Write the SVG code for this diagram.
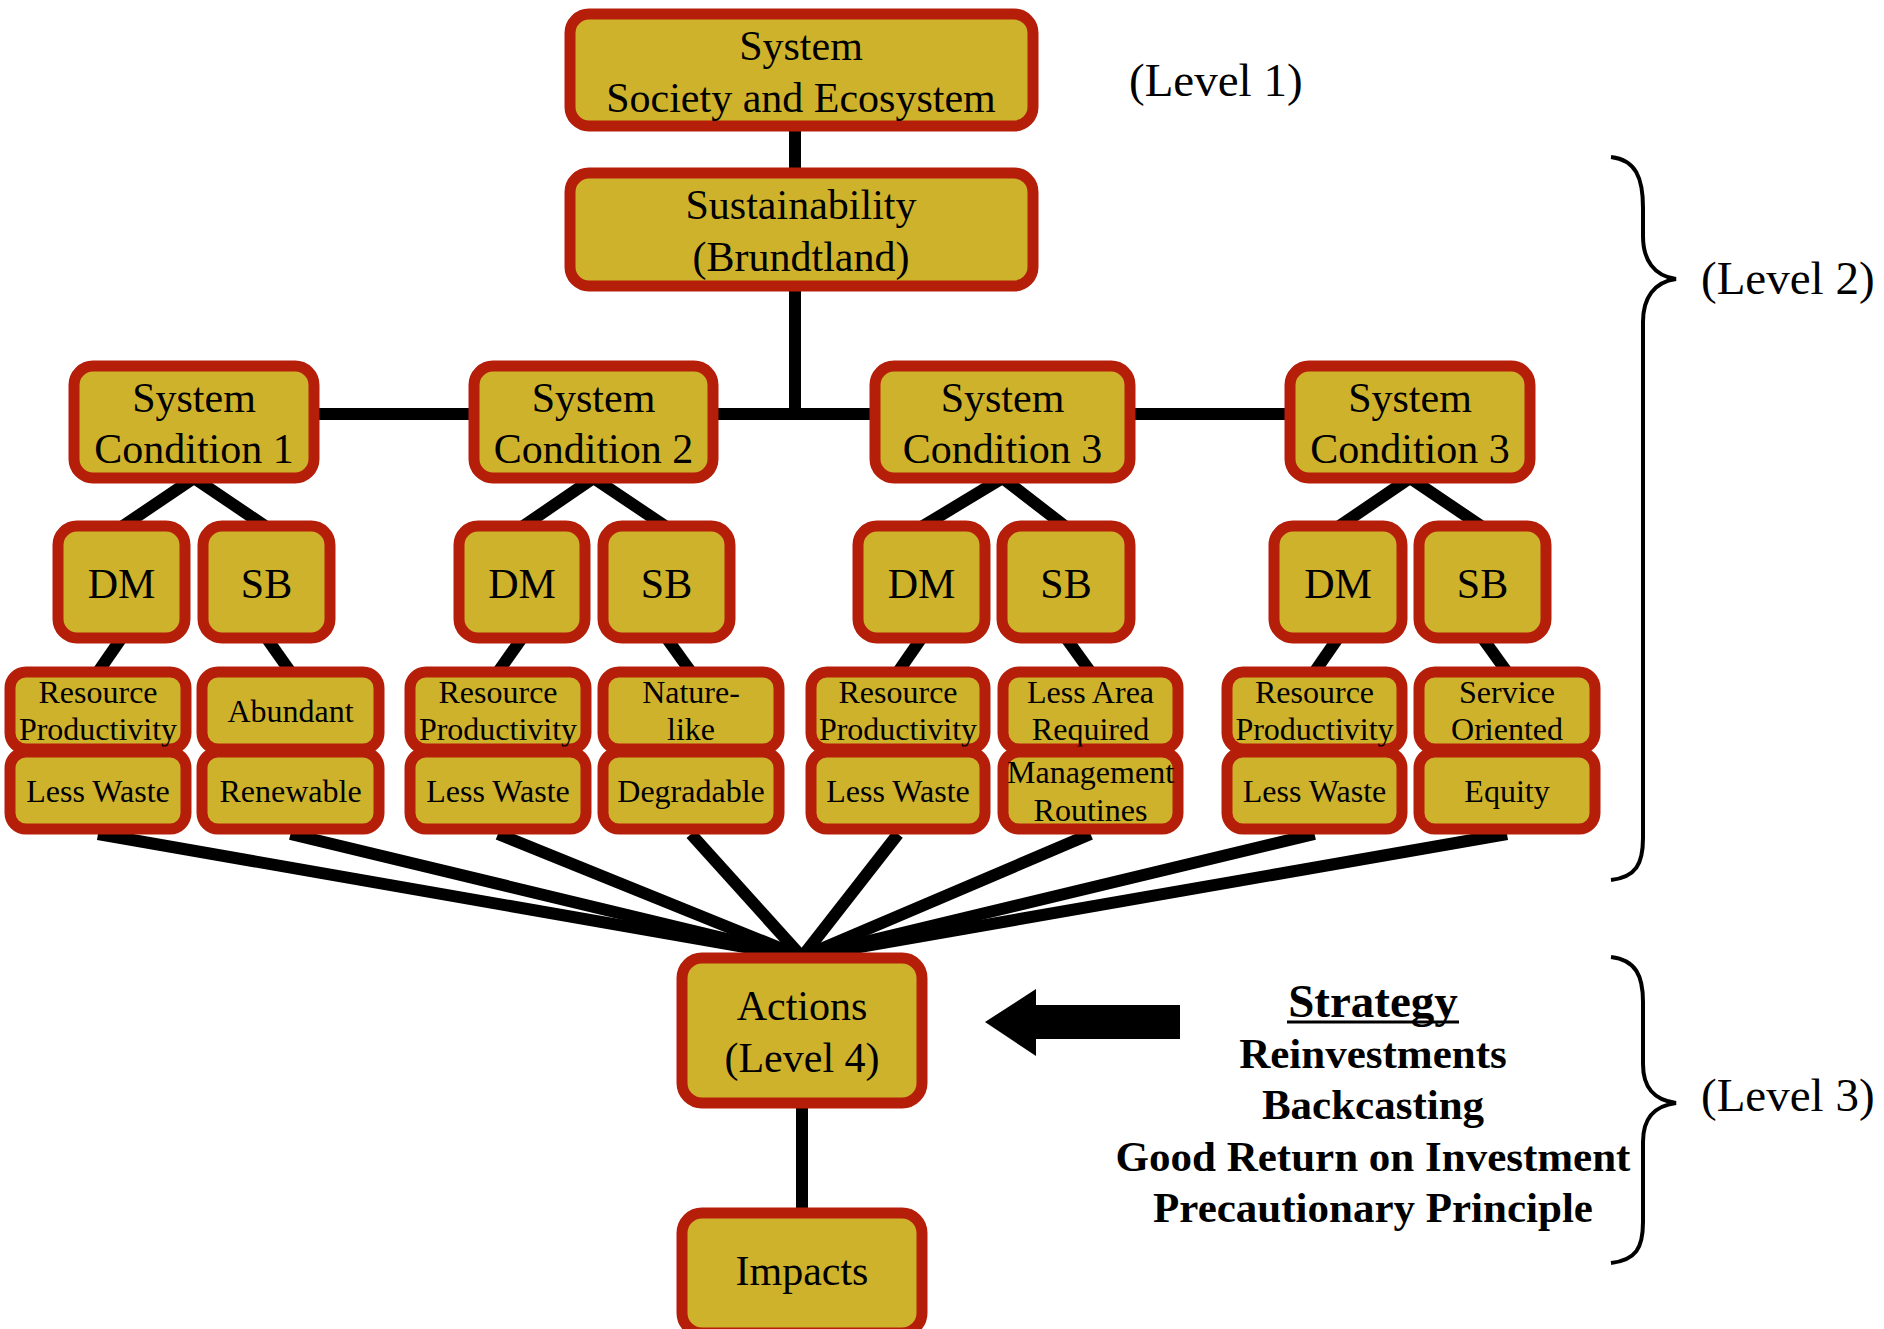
<svg xmlns="http://www.w3.org/2000/svg" width="1884" height="1329" viewBox="0 0 1884 1329">
  <style>
    .box { fill: #CFB22B; stroke: #B51F0A; stroke-width: 11; }
    .t { font-family: "Liberation Serif", "Times New Roman", serif; fill: #000; text-anchor: middle; }
    .big { font-size: 42px; }
    .sm { font-size: 32px; }
    .lvl { font-family: "Liberation Serif", "Times New Roman", serif; font-size: 47px; fill: #000; }
    .strat { font-family: "Liberation Serif", "Times New Roman", serif; font-weight: bold; font-size: 43px; text-anchor: middle; fill: #000; }
    .conn { stroke: #000; stroke-width: 12; fill: none; stroke-linecap: butt; stroke-linejoin: miter; }
    .brace { stroke: #000; stroke-width: 4; fill: none; }
  </style>
  <rect x="0" y="0" width="1884" height="1329" fill="#fff"/>

  <!-- connectors -->
  <g id="connectors">
    <line class="conn" x1="795" y1="125" x2="795" y2="175"/>
    <polyline class="conn" points="795,285 795,414"/>
    <line class="conn" x1="200" y1="414" x2="1400" y2="414"/>
    <!-- condition to DM / SB -->
    <polyline class="conn" points="121.5,527 194,478 266.5,527"/>
    <polyline class="conn" points="522,527 593.5,478 666.5,527"/>
    <polyline class="conn" points="921.5,527 1002.5,478 1066,527"/>
    <polyline class="conn" points="1338,527 1410,478 1482.5,527"/>
    <!-- DM / SB to first attribute -->
    <line class="conn" x1="121.5" y1="638" x2="98" y2="672"/>
    <line class="conn" x1="266.5" y1="638" x2="290.5" y2="672"/>
    <line class="conn" x1="522" y1="638" x2="498" y2="672"/>
    <line class="conn" x1="666.5" y1="638" x2="691" y2="672"/>
    <line class="conn" x1="921.5" y1="638" x2="898" y2="672"/>
    <line class="conn" x1="1066" y1="638" x2="1090.5" y2="672"/>
    <line class="conn" x1="1338" y1="638" x2="1314.5" y2="672"/>
    <line class="conn" x1="1482.5" y1="638" x2="1507" y2="672"/>
    <!-- attributes fan into actions -->
    <line class="conn" x1="98" y1="834" x2="802" y2="957"/>
    <line class="conn" x1="290.5" y1="834" x2="802" y2="957"/>
    <line class="conn" x1="498" y1="834" x2="802" y2="957"/>
    <line class="conn" x1="691" y1="834" x2="802" y2="957"/>
    <line class="conn" x1="898" y1="834" x2="802" y2="957"/>
    <line class="conn" x1="1090.5" y1="834" x2="802" y2="957"/>
    <line class="conn" x1="1314.5" y1="834" x2="802" y2="957"/>
    <line class="conn" x1="1507" y1="834" x2="802" y2="957"/>
    <!-- actions to impacts -->
    <line class="conn" x1="802" y1="1100" x2="802" y2="1215"/>
    <!-- strategy arrow -->
    <polygon points="985,1022 1036,989 1036,1005 1180,1005 1180,1039 1036,1039 1036,1056" fill="#000"/>
  </g>

  <g id="system">
    <rect class="box" x="570" y="14" width="463" height="112" rx="19"/>
    <text class="t big" x="801" y="60">System</text>
    <text class="t big" x="801" y="112">Society and Ecosystem</text>
  </g>
  <g id="sustainability">
    <rect class="box" x="570" y="173" width="463" height="113" rx="19"/>
    <text class="t big" x="801" y="219">Sustainability</text>
    <text class="t big" x="801" y="271">(Brundtland)</text>
  </g>

  <g id="sc1">
    <rect class="box" x="74" y="366" width="240" height="112" rx="19"/>
    <text class="t big" x="194" y="412">System</text>
    <text class="t big" x="194" y="463">Condition 1</text>
  </g>
  <g id="sc2">
    <rect class="box" x="474" y="366" width="239" height="112" rx="19"/>
    <text class="t big" x="593.5" y="412">System</text>
    <text class="t big" x="593.5" y="463">Condition 2</text>
  </g>
  <g id="sc3a">
    <rect class="box" x="875" y="366" width="255" height="112" rx="19"/>
    <text class="t big" x="1002.5" y="412">System</text>
    <text class="t big" x="1002.5" y="463">Condition 3</text>
  </g>
  <g id="sc3b">
    <rect class="box" x="1290" y="366" width="240" height="112" rx="19"/>
    <text class="t big" x="1410" y="412">System</text>
    <text class="t big" x="1410" y="463">Condition 3</text>
  </g>

  <g id="dm1"><rect class="box" x="58" y="526" width="127" height="112" rx="19"/><text class="t big" x="121.5" y="598">DM</text></g>
  <g id="sb1"><rect class="box" x="203" y="526" width="127" height="112" rx="19"/><text class="t big" x="266.5" y="598">SB</text></g>
  <g id="dm2"><rect class="box" x="459" y="526" width="126" height="112" rx="19"/><text class="t big" x="522" y="598">DM</text></g>
  <g id="sb2"><rect class="box" x="603" y="526" width="127" height="112" rx="19"/><text class="t big" x="666.5" y="598">SB</text></g>
  <g id="dm3"><rect class="box" x="858" y="526" width="127" height="112" rx="19"/><text class="t big" x="921.5" y="598">DM</text></g>
  <g id="sb3"><rect class="box" x="1002" y="526" width="128" height="112" rx="19"/><text class="t big" x="1066" y="598">SB</text></g>
  <g id="dm4"><rect class="box" x="1274" y="526" width="128" height="112" rx="19"/><text class="t big" x="1338" y="598">DM</text></g>
  <g id="sb4"><rect class="box" x="1419" y="526" width="127" height="112" rx="19"/><text class="t big" x="1482.5" y="598">SB</text></g>

  <!-- attribute pairs, first row -->
  <g id="a1-resource"><rect class="box" x="10" y="672" width="176" height="77" rx="16"/>
    <text class="t sm" x="98" y="703">Resource</text><text class="t sm" x="98" y="740">Productivity</text></g>
  <g id="a2-abundant"><rect class="box" x="202" y="672" width="177" height="77" rx="16"/>
    <text class="t sm" x="290.5" y="722">Abundant</text></g>
  <g id="a3-resource"><rect class="box" x="410" y="672" width="176" height="77" rx="16"/>
    <text class="t sm" x="498" y="703">Resource</text><text class="t sm" x="498" y="740">Productivity</text></g>
  <g id="a4-nature"><rect class="box" x="603" y="672" width="176" height="77" rx="16"/>
    <text class="t sm" x="691" y="703">Nature-</text><text class="t sm" x="691" y="740">like</text></g>
  <g id="a5-resource"><rect class="box" x="811" y="672" width="174" height="77" rx="16"/>
    <text class="t sm" x="898" y="703">Resource</text><text class="t sm" x="898" y="740">Productivity</text></g>
  <g id="a6-area"><rect class="box" x="1003" y="672" width="175" height="77" rx="16"/>
    <text class="t sm" x="1090.5" y="703">Less Area</text><text class="t sm" x="1090.5" y="740">Required</text></g>
  <g id="a7-resource"><rect class="box" x="1227" y="672" width="175" height="77" rx="16"/>
    <text class="t sm" x="1314.5" y="703">Resource</text><text class="t sm" x="1314.5" y="740">Productivity</text></g>
  <g id="a8-service"><rect class="box" x="1419" y="672" width="176" height="77" rx="16"/>
    <text class="t sm" x="1507" y="703">Service</text><text class="t sm" x="1507" y="740">Oriented</text></g>

  <!-- attribute pairs, second row -->
  <g id="b1-waste"><rect class="box" x="10" y="752" width="176" height="77" rx="16"/>
    <text class="t sm" x="98" y="802">Less Waste</text></g>
  <g id="b2-renewable"><rect class="box" x="202" y="752" width="177" height="77" rx="16"/>
    <text class="t sm" x="290.5" y="802">Renewable</text></g>
  <g id="b3-waste"><rect class="box" x="410" y="752" width="176" height="77" rx="16"/>
    <text class="t sm" x="498" y="802">Less Waste</text></g>
  <g id="b4-degradable"><rect class="box" x="603" y="752" width="176" height="77" rx="16"/>
    <text class="t sm" x="691" y="802">Degradable</text></g>
  <g id="b5-waste"><rect class="box" x="811" y="752" width="174" height="77" rx="16"/>
    <text class="t sm" x="898" y="802">Less Waste</text></g>
  <g id="b6-management"><rect class="box" x="1003" y="752" width="175" height="77" rx="16"/>
    <text class="t sm" x="1090.5" y="783">Management</text><text class="t sm" x="1090.5" y="821">Routines</text></g>
  <g id="b7-waste"><rect class="box" x="1227" y="752" width="175" height="77" rx="16"/>
    <text class="t sm" x="1314.5" y="802">Less Waste</text></g>
  <g id="b8-equity"><rect class="box" x="1419" y="752" width="176" height="77" rx="16"/>
    <text class="t sm" x="1507" y="802">Equity</text></g>

  <g id="actions">
    <rect class="box" x="682" y="958" width="240" height="145" rx="20"/>
    <text class="t big" x="802" y="1020">Actions</text>
    <text class="t big" x="802" y="1072">(Level 4)</text>
  </g>
  <g id="impacts">
    <rect class="box" x="682" y="1213" width="240" height="120" rx="20"/>
    <text class="t big" x="802" y="1285">Impacts</text>
  </g>

  <!-- strategy list -->
  <g id="strategy">
    <text class="strat" x="1373" y="1017" style="font-size:47px">Strategy</text>
    <line x1="1287" y1="1022" x2="1459" y2="1022" stroke="#000" stroke-width="3"/>
    <text class="strat" x="1373" y="1068">Reinvestments</text>
    <text class="strat" x="1373" y="1119">Backcasting</text>
    <text class="strat" x="1373" y="1171">Good Return on Investment</text>
    <text class="strat" x="1373" y="1222">Precautionary Principle</text>
  </g>

  <!-- level labels and braces -->
  <g id="levels">
    <text class="lvl" x="1129" y="96">(Level 1)</text>
    <path class="brace" d="M1611,157 C1636,160 1643,178 1643,208 L1643,236 C1643,260 1654,276 1676,279 C1654,282 1643,298 1643,322 L1643,838 C1643,864 1636,877 1611,880"/>
    <text class="lvl" x="1701" y="294">(Level 2)</text>
    <path class="brace" d="M1611,957 C1636,960 1643,976 1643,1002 L1643,1064 C1643,1088 1654,1100 1676,1103 C1654,1106 1643,1118 1643,1142 L1643,1222 C1643,1248 1636,1260 1611,1263"/>
    <text class="lvl" x="1701" y="1111">(Level 3)</text>
  </g>
</svg>
